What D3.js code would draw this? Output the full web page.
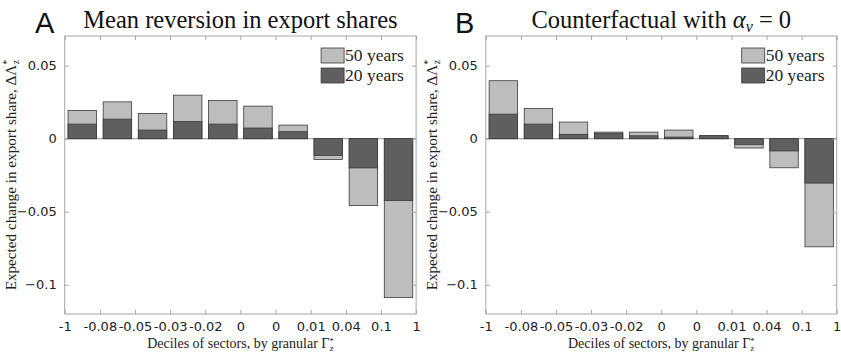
<!DOCTYPE html>
<html>
<head>
<meta charset="utf-8">
<script src="https://cdn.jsdelivr.net/npm/d3@7"></script>
<style>
  html, body { margin: 0; padding: 0; background: #fff; }
  svg { display: block; }
  .serif { font-family: "Liberation Serif", "DejaVu Serif", serif; }
  .sans { font-family: "DejaVu Sans", "Liberation Sans", sans-serif; }
</style>
</head>
<body>
<svg id="chart" width="841" height="352"></svg>
<script>
// Decile boundaries of sectors (by granular Gamma*), shown at bar edges
const decileTicks = ["-1", "-0.08", "-0.05", "-0.03", "-0.02", "0", "0", "0.01", "0.04", "0.1", "1"];
const yTicks = [0.05, 0, -0.05, -0.1];
const seriesNames = ["50 years", "20 years"];

// Panel A: mean reversion in export shares
const meanRev50 = [0.0193, 0.0252, 0.0173, 0.0298, 0.0261, 0.0223, 0.0093, -0.0143, -0.0458, -0.1088];
const meanRev20 = [0.0100, 0.0134, 0.0059, 0.0118, 0.0100, 0.0073, 0.0048, -0.0114, -0.0200, -0.0424];

// Panel B: counterfactual with alpha_v = 0
const counter50 = [0.0397, 0.0207, 0.0114, 0.0045, 0.0045, 0.0059, 0.0018, -0.0064, -0.0199, -0.0740];
const counter20 = [0.0168, 0.0100, 0.0030, 0.0037, 0.0020, 0.0011, 0.0022, -0.0039, -0.0084, -0.0304];

const colors = { light: "#bdbdbd", dark: "#5f5f5f", edge: "#3a3a3a", axis: "#a6a6a6", text: "#222" };

const svg = d3.select("#chart");

function drawPanel(opts) {
  const { x0, x1, y0, y1, s50, s20, letter, letterX, title } = opts;
  const g = svg.append("g");

  const x = d3.scaleLinear().domain([0, s50.length]).range([x0, x1]);
  const y = d3.scaleLinear().domain([-0.12, 0.0703]).range([y1, y0]);
  const slot = x(1) - x(0);
  const bw = slot * 0.81;

  // axis box
  g.append("rect")
    .attr("x", x0).attr("y", y0)
    .attr("width", x1 - x0).attr("height", y1 - y0)
    .attr("fill", "none").attr("stroke", colors.axis).attr("stroke-width", 1);

  // baseline at zero
  g.append("line")
    .attr("x1", x0).attr("x2", x1)
    .attr("y1", y(0)).attr("y2", y(0))
    .attr("stroke", colors.axis).attr("stroke-width", 1.2);

  // bars: longer horizon behind, shorter horizon in front
  [[s50, colors.light], [s20, colors.dark]].forEach(([vals, fill]) => {
    g.append("g").selectAll("rect").data(vals).join("rect")
      .attr("x", (d, i) => x(i + 0.5) - bw / 2)
      .attr("width", bw)
      .attr("y", d => y(Math.max(0, d)))
      .attr("height", d => Math.abs(y(d) - y(0)))
      .attr("fill", fill)
      .attr("stroke", colors.edge)
      .attr("stroke-width", 0.8);
  });

  // x axis (bottom and mirrored top ticks)
  const xTickVals = d3.range(decileTicks.length);
  const xAxis = d3.axisBottom(x).tickValues(xTickVals)
    .tickFormat(i => decileTicks[i]).tickSizeInner(-4).tickSizeOuter(0).tickPadding(8);
  const gx = g.append("g").attr("transform", `translate(0,${y1})`).call(xAxis);
  gx.select(".domain").remove();
  gx.selectAll("line").attr("stroke", colors.axis);
  gx.selectAll("text").attr("class", "sans").attr("font-size", 13).attr("fill", colors.text);

  const xTop = d3.axisTop(x).tickValues(xTickVals).tickFormat("").tickSizeInner(-4).tickSizeOuter(0);
  const gxt = g.append("g").attr("transform", `translate(0,${y0})`).call(xTop);
  gxt.select(".domain").remove();
  gxt.selectAll("line").attr("stroke", colors.axis);

  // y axis (left and mirrored right ticks)
  const yAxis = d3.axisLeft(y).tickValues(yTicks).tickFormat(d => d3.format("")(+d.toFixed(2)))
    .tickSizeInner(-4).tickSizeOuter(0).tickPadding(8);
  const gy = g.append("g").attr("transform", `translate(${x0},0)`).call(yAxis);
  gy.select(".domain").remove();
  gy.selectAll("line").attr("stroke", colors.axis);
  gy.selectAll("text").attr("class", "sans").attr("font-size", 13).attr("fill", colors.text);

  const yRight = d3.axisRight(y).tickValues(yTicks).tickFormat("").tickSizeInner(-4).tickSizeOuter(0);
  const gyr = g.append("g").attr("transform", `translate(${x1},0)`).call(yRight);
  gyr.select(".domain").remove();
  gyr.selectAll("line").attr("stroke", colors.axis);

  // legend
  const lx = x1 - 95, ly = y0 + 12;
  [colors.light, colors.dark].forEach((c, i) => {
    g.append("rect")
      .attr("x", lx).attr("y", ly + i * 20)
      .attr("width", 23).attr("height", 15)
      .attr("fill", c).attr("stroke", colors.edge).attr("stroke-width", 0.8);
    g.append("text")
      .attr("class", "serif")
      .attr("x", lx + 24).attr("y", ly + i * 20 + 13)
      .attr("font-size", 17.5).attr("fill", colors.text)
      .text(seriesNames[i]);
  });

  // panel letter
  g.append("text")
    .attr("font-family", "Liberation Sans, Arial, sans-serif")
    .attr("x", letterX).attr("y", 33)
    .attr("font-size", 29).attr("fill", "#111")
    .text(letter);

  // title
  const t = g.append("text")
    .attr("class", "serif")
    .attr("x", (x0 + x1) / 2).attr("y", 28)
    .attr("text-anchor", "middle")
    .attr("font-size", 24.5).attr("fill", "#111");
  title(t);

  // x label
  const xl = g.append("text")
    .attr("class", "serif")
    .attr("x", (x0 + x1) / 2).attr("y", 348)
    .attr("text-anchor", "middle")
    .attr("font-size", 14).attr("fill", colors.text);
  xl.append("tspan").text("Deciles of sectors, by granular Γ");
  xl.append("tspan").attr("font-size", 8.5).attr("dy", -4).text("*");
  xl.append("tspan").attr("font-size", 8.5).attr("dx", -4).attr("dy", 6.5).text("z");

  // y label
  const yl = g.append("text")
    .attr("class", "serif")
    .attr("transform", `translate(${x0 - 49},${(y0 + y1) / 2}) rotate(-90)`)
    .attr("text-anchor", "middle")
    .attr("font-size", 15.2).attr("fill", colors.text);
  yl.append("tspan").text("Expected change in export share, ΔΛ");
  yl.append("tspan").attr("font-size", 10).attr("dy", -6).text("*");
  yl.append("tspan").attr("font-size", 10).attr("dx", -4.5).attr("dy", 9).text("z");
}

drawPanel({
  x0: 64.7, x1: 416.1, y0: 36, y1: 314,
  s50: meanRev50, s20: meanRev20,
  letter: "A", letterX: 35,
  title: t => t.text("Mean reversion in export shares")
});

drawPanel({
  x0: 485.8, x1: 836.7, y0: 36, y1: 314,
  s50: counter50, s20: counter20,
  letter: "B", letterX: 455,
  title: t => {
    t.append("tspan").text("Counterfactual with ");
    t.append("tspan").attr("font-style", "italic").text("α");
    t.append("tspan").attr("font-style", "italic").attr("font-size", 16).attr("dy", 4).text("v");
    t.append("tspan").attr("dy", -4).text(" = 0");
  }
});
</script>
</body>
</html>
